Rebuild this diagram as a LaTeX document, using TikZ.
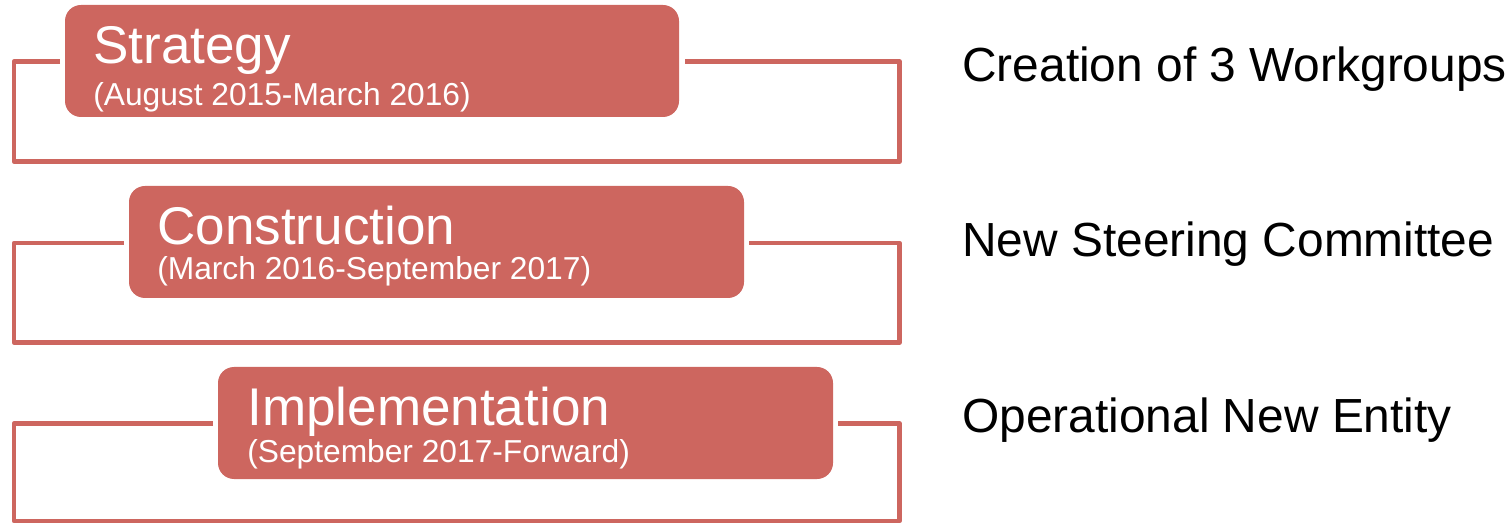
\documentclass[tikz,border=0pt]{standalone}
\usepackage{fontspec}
\setmainfont{Liberation Sans}
\definecolor{boxred}{RGB}{205,102,95}
\begin{document}
\begin{tikzpicture}[x=0.75pt,y=-0.75pt,
  phase/.style={fill=boxred,draw=none,rounded corners=12pt},
  bracket/.style={draw=boxred,line width=3.4pt,line join=round,line cap=butt},
  title/.style={anchor=base west,inner sep=0pt,text=white,font=\fontsize{39.8}{46}\selectfont},
  subtitle/.style={anchor=base west,inner sep=0pt,text=white,font=\fontsize{23.8}{28}\selectfont},
  result/.style={anchor=base west,inner sep=0pt,text=black,font=\fontsize{35.9}{42}\selectfont}]
\useasboundingbox (0,0) rectangle (1512,523);
% brackets
\draw[bracket] (60,61.5) -- (14,61.5) -- (14,161.5) -- (899.5,161.5) -- (899.5,61.5) -- (685,61.5);
\draw[bracket] (124,243) -- (14,243) -- (14,342.5) -- (899.5,342.5) -- (899.5,243) -- (749,243);
\draw[bracket] (213,423.5) -- (14,423.5) -- (14,521) -- (899.5,521) -- (899.5,423.5) -- (838,423.5);
% boxes
\path[phase] (65,5) rectangle (679,117);
\path[phase] (129,186) rectangle (744,298);
\path[phase] (218,367) rectangle (833,479);
% texts
\node[title] (t1) at (93,63.5) {Strategy};
\node[subtitle] (s1) at (93,106) {(August 2015-March 2016)};
\node[title] (t2) at (157,245) {Construction};
\node[subtitle] (s2) at (157,280) {(March 2016-September 2017)};
\node[title] (t3) at (247,426) {Implementation};
\node[subtitle] (s3) at (247,462) {(September 2017-Forward)};
\node[result] (r1) at (962,82) {Creation of 3 Workgroups};
\node[result] (r2) at (962,257) {New Steering Committee};
\node[result] (r3) at (962,432) {Operational New Entity};
\end{tikzpicture}
\end{document}
